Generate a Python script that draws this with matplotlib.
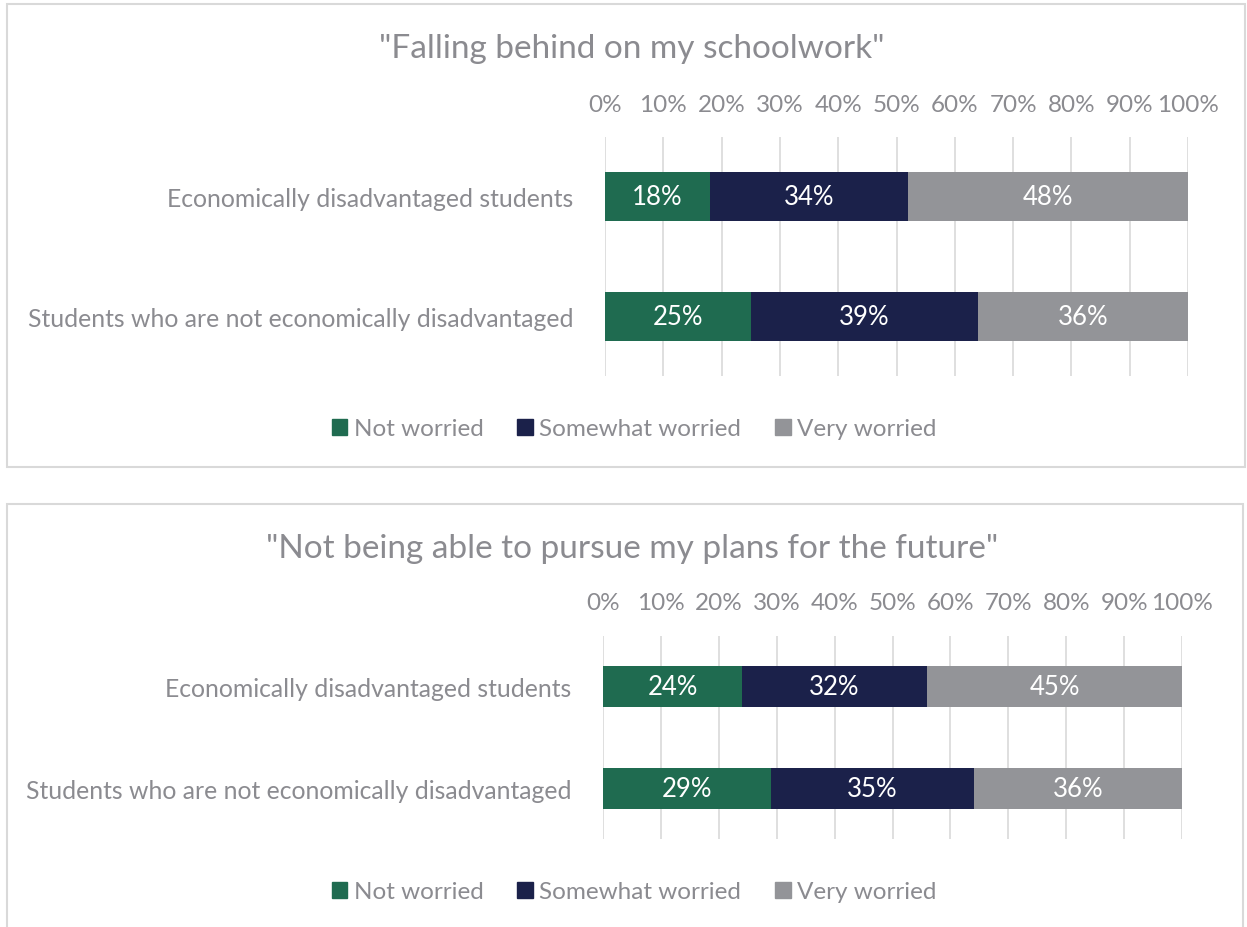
import matplotlib
matplotlib.use("Agg")
import matplotlib.pyplot as plt
import matplotlib.patches as mpatches
import numpy as np

plt.rcParams['font.family'] = ['Lato', 'DejaVu Sans']

W, H = 1247, 928

groups = ["Economically disadvantaged students",
          "Students who are not economically disadvantaged"]
levels = ["Not worried", "Somewhat worried", "Very worried"]
colors = ["#1f6b50", "#1b214a", "#939498"]
text_gray = "#8b8b90"
grid_gray = "#dcdcdc"

schoolwork_title = '"Falling behind on my schoolwork"'
schoolwork = [[18, 34, 48],   # economically disadvantaged
              [25, 39, 36]]   # not economically disadvantaged

future_title = '"Not being able to pursue my plans for the future"'
future = [[24, 32, 45],
          [29, 35, 36]]

ticks = np.arange(0, 101, 10)
tick_labels = [f"{t}%" for t in ticks]


def frac(x0, y0, x1, y1):
    # pixel box (top-left origin) -> figure fraction rect
    return [x0 / W, 1 - y1 / H, (x1 - x0) / W, (y1 - y0) / H]


def panel(fig, box, title, title_y, ax_box, tick_y, values, bar_h, legend_y):
    x0, y0, x1, y1 = box
    fig.add_artist(mpatches.Rectangle((x0 / W, 1 - y1 / H), (x1 - x0) / W, (y1 - y0) / H,
                                      transform=fig.transFigure, fill=False,
                                      edgecolor="#d9d9d9", linewidth=1.5))
    fig.text(632 / W, 1 - title_y / H, title, ha="center", va="center",
             fontsize=24, color=text_gray)

    ax = fig.add_axes(frac(*ax_box))
    vals = np.array(values)
    ypos = np.arange(len(groups))
    left = np.zeros(len(groups))
    for i, lvl in enumerate(levels):
        bars = ax.barh(ypos, vals[:, i], left=left, height=bar_h, color=colors[i],
                       label=lvl, zorder=3)
        ax.bar_label(bars, labels=[f"{v}%" for v in vals[:, i]], label_type="center",
                     color="white", fontsize=18.5)
        left += vals[:, i]

    ax.set_xlim(0, 100)
    ax.set_ylim(len(groups) - 0.5, -0.5)
    ax.set_xticks(ticks)
    ax.set_xticklabels(tick_labels)
    ax.set_yticks(ypos)
    ax.set_yticklabels(groups)
    ax.xaxis.tick_top()
    ax.tick_params(axis="x", length=0, labelsize=17.5, labelcolor=text_gray)
    ax.tick_params(axis="y", length=0, labelsize=17.8, labelcolor=text_gray, pad=23)
    ax.tick_params(axis="x", pad=(ax_box[1] - tick_y) * 0.72 - 9)
    ax.grid(axis="x", color=grid_gray, linewidth=1.3, zorder=0)
    for s in ax.spines.values():
        s.set_visible(False)

    handles = [mpatches.Patch(color=c) for c in colors]
    fig.legend(handles, levels, loc="center", bbox_to_anchor=(634 / W, 1 - legend_y / H),
               ncol=3, frameon=False, fontsize=17.5, labelcolor=text_gray,
               handlelength=0.65, handleheight=0.65, handletextpad=0.25,
               columnspacing=1.4)
    return ax


fig = plt.figure(figsize=(W / 100, H / 100), dpi=100)

panel(fig, (7, 5, 1245, 468), schoolwork_title, 49,
      (605, 138, 1188, 377), 103, schoolwork, 0.41, 430)
panel(fig, (7, 505, 1243, 960), future_title, 549,
      (603, 637, 1182, 840), 602, future, 0.40, 893)

fig.savefig("out.png", dpi=100)
